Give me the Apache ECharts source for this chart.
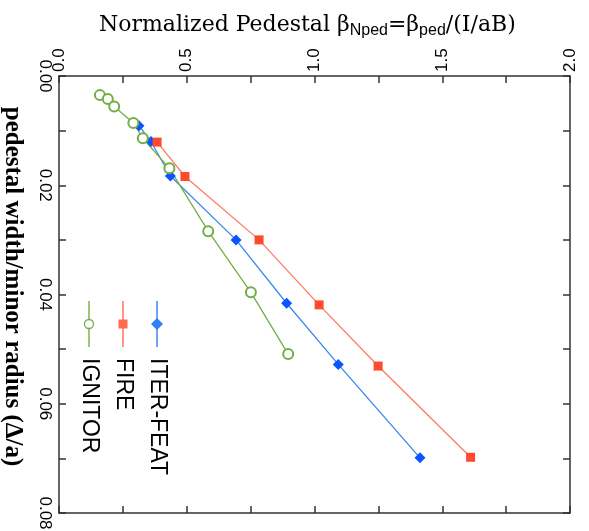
<!DOCTYPE html>
<html>
<head>
<meta charset="utf-8">
<script src="https://cdn.jsdelivr.net/npm/echarts@6/dist/echarts.min.js"></script>
<style>
  html, body { margin: 0; padding: 0; background: #fff; }
  #chart { width: 589px; height: 531px; }
</style>
</head>
<body>
<div id="chart"></div>
<script>
// normalized pedestal beta (x) vs pedestal width / minor radius (y)
const iterBeta = [0.313, 0.360, 0.436, 0.693, 0.891, 1.093, 1.413];
const iterWidth = [0.0091, 0.0120, 0.0183, 0.0300, 0.0416, 0.0528, 0.0699];
const fireBeta = [0.384, 0.493, 0.783, 1.018, 1.249, 1.611];
const fireWidth = [0.0121, 0.0184, 0.0300, 0.0419, 0.0531, 0.0698];
const ignitorBeta = [0.160, 0.191, 0.216, 0.291, 0.328, 0.432, 0.584, 0.751, 0.897];
const ignitorWidth = [0.0035, 0.0042, 0.0056, 0.0086, 0.0114, 0.0169, 0.0284, 0.0396, 0.0509];

const seriesNames = ['ITER-FEAT', 'FIRE', 'IGNITOR'];
const xTickLabels = ['0.0', '0.5', '1.0', '1.5', '2.0'];
const yTickLabels = ['0.00', '0.02', '0.04', '0.06', '0.08'];

const pairs = (xs, ys) => xs.map((x, i) => [x, ys[i]]);

const frame = { show: true, onZero: false, lineStyle: { color: '#333', width: 1.5 } };
const ticks = { show: true, inside: true, length: 7, lineStyle: { color: '#333', width: 1.5 } };
const tickFont = { color: '#000', fontSize: 17, fontFamily: 'Liberation Sans, Arial, sans-serif' };
const serif = 'DejaVu Serif, Liberation Serif, serif';

const chart = echarts.init(document.getElementById('chart'));

// legend is drawn turned a quarter turn, like the rest of the figure
function legendItem(i, color, symbol) {
    const ly = i * 34;
    const mark = symbol === 'diamond'
        ? { type: 'polygon', shape: { points: [[23, ly - 6], [29, ly], [23, ly + 6], [17, ly]] }, style: { fill: color } }
        : symbol === 'rect'
            ? { type: 'rect', shape: { x: 18.5, y: ly - 4.5, width: 9, height: 9 }, style: { fill: color } }
            : { type: 'circle', shape: { cx: 23, cy: ly, r: 4.5 }, style: { fill: '#fff', stroke: color, lineWidth: 1.3 } };
    return [
        { type: 'line', shape: { x1: 0, y1: ly, x2: 46, y2: ly }, style: { stroke: color, lineWidth: 1.4 } },
        mark,
        {
            type: 'text', x: 57, y: ly,
            style: { text: seriesNames[i], fill: '#000', font: '23px "Liberation Sans", Arial, sans-serif', verticalAlign: 'middle' }
        }
    ];
}

const option = {
    animation: false,
    title: {
        left: 94,
        top: 7,
        text: '{a|Normalized Pedestal β}{s|Nped}{a|=β}{s|ped}{a|/(I/aB)}',
        textStyle: {
            rich: {
                a: { fontSize: 22, fontWeight: 'normal', fontFamily: serif, color: '#000', lineHeight: 27 },
                s: { fontSize: 16, fontWeight: 'normal', fontFamily: 'Liberation Sans, Arial, sans-serif', color: '#000', lineHeight: 17, verticalAlign: 'bottom' }
            }
        }
    },
    grid: { left: 59, right: 19, top: 76, bottom: 18, containLabel: false, outerBoundsMode: 'none' },
    xAxis: [
        {
            type: 'value', position: 'top', min: 0, max: 2, interval: 0.25,
            axisLine: frame, axisTick: ticks, splitLine: { show: false },
            axisLabel: Object.assign({
                rotate: -90, margin: 4,
                formatter: v => (Math.round(v * 4) % 2 === 0 ? xTickLabels[Math.round(v * 2)] : '')
            }, tickFont)
        },
        {
            type: 'value', position: 'bottom', min: 0, max: 2, interval: 0.25,
            axisLine: frame, axisTick: ticks, splitLine: { show: false }, axisLabel: { show: false }
        }
    ],
    yAxis: [
        {
            type: 'value', position: 'left', inverse: true, min: 0, max: 0.08, interval: 0.01,
            axisLine: frame, axisTick: ticks, splitLine: { show: false },
            axisLabel: Object.assign({
                rotate: -90, margin: 6,
                formatter: v => (Math.round(v * 100) % 2 === 0 ? yTickLabels[Math.round(v * 50)] : '')
            }, tickFont),
            name: 'pedestal width/minor radius (Δ/a)',
            nameLocation: 'middle',
            nameRotate: -90,
            nameGap: 34,
            nameTextStyle: {
                fontSize: 25, fontWeight: 'bold', fontFamily: 'Liberation Serif, Times New Roman, serif',
                color: '#000', padding: [0, 16, 18, 0]
            }
        },
        {
            type: 'value', position: 'right', inverse: true, min: 0, max: 0.08, interval: 0.01,
            axisLine: frame, axisTick: ticks, splitLine: { show: false }, axisLabel: { show: false }
        }
    ],
    series: [
        {
            name: seriesNames[0], type: 'line', data: pairs(iterBeta, iterWidth),
            symbol: 'diamond', symbolSize: 11, showAllSymbol: true,
            lineStyle: { color: '#3b87f2', width: 1.3 }, itemStyle: { color: '#0a55ff' }
        },
        {
            name: seriesNames[1], type: 'line', data: pairs(fireBeta, fireWidth),
            symbol: 'rect', symbolSize: 9,
            lineStyle: { color: '#ff7a62', width: 1.3 }, itemStyle: { color: '#ff4b2b' }
        },
        {
            name: seriesNames[2], type: 'line', data: pairs(ignitorBeta, ignitorWidth),
            symbol: 'emptyCircle', symbolSize: 10,
            lineStyle: { color: '#72ae45', width: 1.3 },
            itemStyle: { color: '#72ae45', borderColor: '#72ae45', borderWidth: 1.3 }
        }
    ],
    graphic: [{
        type: 'group', x: 157, y: 301, rotation: -Math.PI / 2,
        children: [].concat(
            legendItem(0, '#2f7ff5', 'diamond'),
            legendItem(1, '#ff6a50', 'rect'),
            legendItem(2, '#72ae45', 'circle')
        )
    }]
};

chart.setOption(option);
</script>
</body>
</html>
